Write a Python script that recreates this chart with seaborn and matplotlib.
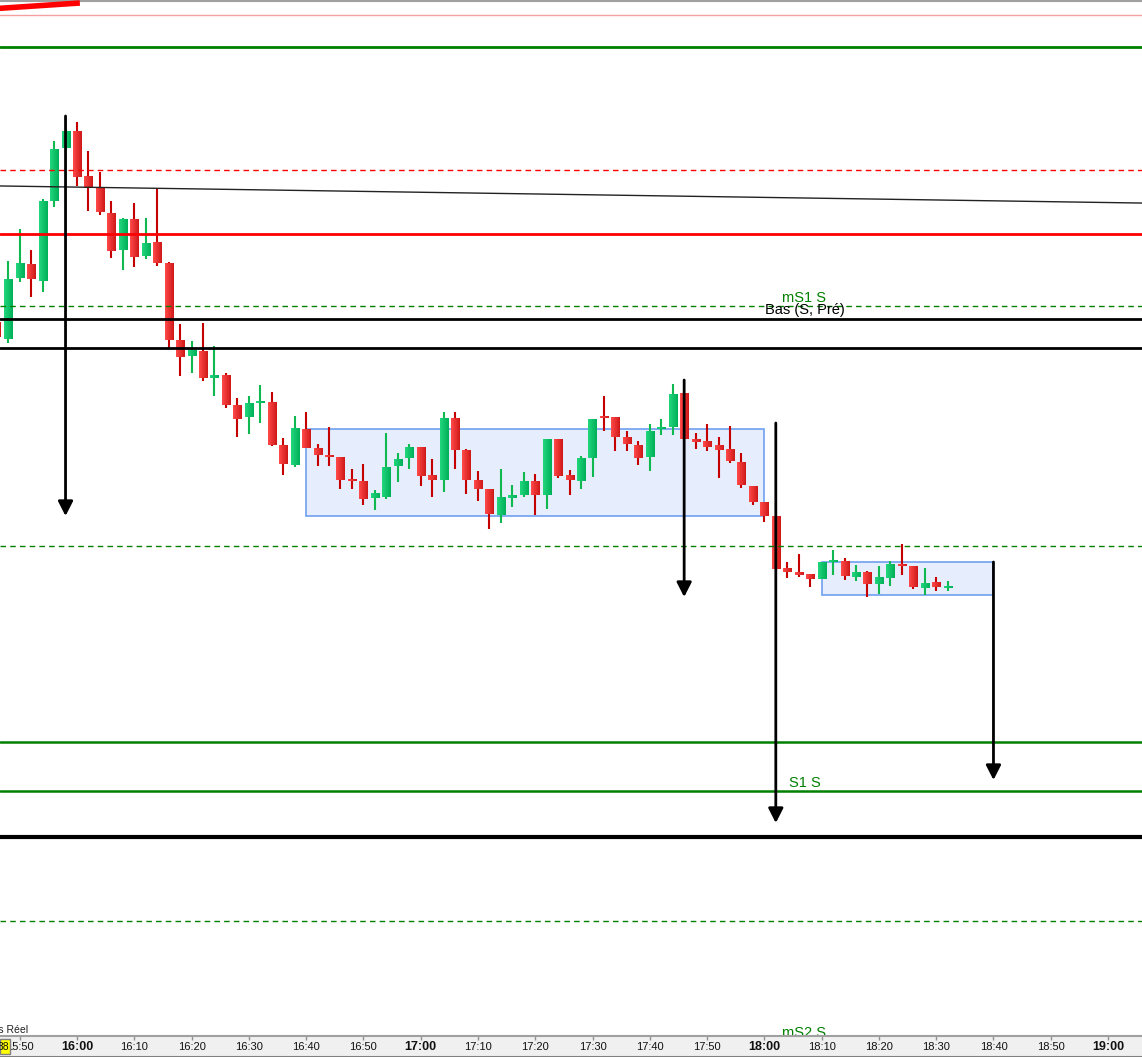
import numpy as np
import matplotlib
matplotlib.use("Agg")
import matplotlib.pyplot as plt
import seaborn as sns
from matplotlib.patches import Rectangle
from matplotlib.colors import to_rgb

sns.set_theme(style="white")
plt.rcParams['font.family'] = ['Liberation Sans', 'DejaVu Sans']

# ---------------- data (time = minutes from 16:00, levels in chart units, axis inverted) -------------
bar_min = list(range(-14, 153, 2))
open_ = [322, 339, 278, 264, 281, 201, 148, 131, 176, 188, 213, 250, 219, 256, 242, 263, 340, 356, 351, 378,
         375, 405, 417, 403, 402, 445, 465, 429, 448, 456, 457, 479, 481, 498, 497, 466, 458, 447, 475, 480,
         418, 450, 480, 489, 515, 498, 495, 481, 495, 439, 475, 481, 458, 417, 417, 437, 445, 457, 429, 427,
         393, 439, 441, 445, 449, 462, 486, 502, 516, 568, 572, 574, 579, 562, 561, 577, 572, 584, 578, 565,
         566, 588, 582, 588]
high_ = [318, 261, 229, 250, 199, 141, 129, 122, 151, 172, 201, 218, 203, 218, 189, 262, 324, 341, 323, 346,
         373, 398, 396, 385, 392, 438, 416, 412, 444, 427, 457, 469, 464, 490, 433, 453, 444, 447, 459, 412,
         412, 449, 471, 489, 469, 485, 472, 474, 439, 439, 470, 456, 419, 396, 417, 431, 441, 424, 419, 384,
         392, 433, 424, 437, 426, 453, 486, 502, 516, 562, 554, 574, 562, 550, 558, 565, 571, 566, 561, 544,
         566, 568, 577, 581]
low_ = [340, 343, 282, 297, 292, 207, 150, 186, 211, 215, 258, 270, 267, 259, 266, 348, 376, 373, 381, 396,
        408, 437, 434, 423, 446, 475, 467, 448, 466, 466, 489, 489, 505, 510, 499, 482, 469, 486, 497, 492,
        469, 494, 501, 529, 523, 507, 497, 515, 509, 478, 495, 489, 477, 431, 451, 451, 465, 471, 435, 435,
        440, 449, 451, 478, 463, 488, 505, 522, 570, 578, 577, 587, 579, 575, 580, 581, 597, 594, 586, 575,
        589, 595, 591, 591]
close_ = [337, 279, 263, 279, 201, 149, 131, 177, 188, 212, 251, 219, 257, 243, 263, 340, 357, 350, 378, 375,
          405, 419, 403, 402, 445, 464, 428, 448, 455, 457, 480, 481, 499, 493, 467, 459, 447, 476, 480, 418,
          450, 480, 489, 514, 497, 495, 481, 495, 439, 476, 480, 458, 419, 418, 437, 444, 458, 431, 427, 394,
          439, 442, 447, 450, 461, 485, 502, 516, 569, 572, 575, 579, 562, 561, 576, 572, 584, 577, 564, 566,
          587, 583, 587, 586]

# horizontal levels
level_values = [15, 47, 170, 234, 306, 319, 348, 546, 742, 791, 837, 921]

# sloped trend lines: (start minute, start level, end minute, end level)
trend_start_min = [-20, -14]
trend_start_val = [185.4, 8.5]
trend_end_min = [190, 0.5]
trend_end_val = [203.4, 3.0]

# consolidation boxes
box_start = [40, 130]
box_end = [120, 160]
box_top = [429, 562]
box_bottom = [516, 595]

# projection arrows
arrow_min = [-2, 106, 122, 160]
arrow_from = [116, 380, 423, 562]
arrow_to = [516, 597, 823, 780]

# level labels
label_texts = ["mS1 S", "Bas (S, Pré)", "S1 S", "mS2 S"]
label_values = [302, 314, 787, 1037]
label_min = [127, 127, 127, 127]

# time axis
tick_min = list(range(-10, 181, 10))
tick_labels = ["15:50", "16:00", "16:10", "16:20", "16:30", "16:40", "16:50", "17:00", "17:10", "17:20",
               "17:30", "17:40", "17:50", "18:00", "18:10", "18:20", "18:30", "18:40", "18:50", "19:00"]

# ---------------- styles -------------
level_colors = ['#f4a0a0', '#008000', '#ff0000', '#ff0000', '#008000', '#000000', '#000000',
                '#008000', '#008000', '#008000', '#000000', '#008000']
level_widths = [1.0, 2.0, 1.0, 2.0, 1.0, 2.0, 2.0, 1.0, 1.8, 1.8, 3.0, 1.0]
level_dashed = [False, False, True, False, True, False, False, True, False, False, False, True]
trend_colors = ['#222222', '#ff0000']
trend_widths = [1.0, 4.0]
label_colors = ['#008000', '#000000', '#008000', '#008000']

XMIN, XMAX = -13.44, 185.93
PX_PER_MIN = 5.728
W, H = 1142, 1057
STRIP = 21

fig = plt.figure(figsize=(W / 100, H / 100), dpi=100)
fig.patch.set_facecolor('white')
ax = fig.add_axes([0, STRIP / H, 1, (H - STRIP) / H])
ax.set_facecolor('white')

# boxes
for s, e, t, b in zip(box_start, box_end, box_top, box_bottom):
    ax.add_patch(Rectangle((s, t), e - s, b - t, facecolor='#e6edfc', edgecolor='#6f9ff0',
                           lw=1.2, zorder=1))

# candles
up_l, up_r = to_rgb('#22d67c'), to_rgb('#00b058')
dn_l, dn_r = to_rgb('#ff4a4a'), to_rgb('#d01818')
half = 0.7
for t, o, hh, ll, c in zip(bar_min, open_, high_, low_, close_):
    up = c < o
    ax.vlines(t, hh, ll, color='#10b850' if up else '#c40000', lw=1.5, zorder=2)
    top, bot = min(o, c), max(o, c)
    if bot - top < 2:
        mid = (top + bot) / 2
        top, bot = mid - 1, mid + 1
    cl, cr = (up_l, up_r) if up else (dn_l, dn_r)
    grad = np.linspace(np.array(cl), np.array(cr), 16)[None, :, :]
    ax.imshow(grad, extent=(t - half, t + half, bot, top), aspect='auto',
              interpolation='bilinear', zorder=3)

# horizontal levels
for v, col, lw, dsh in zip(level_values, level_colors, level_widths, level_dashed):
    ax.axhline(v, color=col, lw=lw, zorder=4,
               linestyle=(0, (4, 3)) if dsh else '-')

# trend lines
for x0, y0, x1, y1, col, lw in zip(trend_start_min, trend_start_val, trend_end_min, trend_end_val,
                                   trend_colors, trend_widths):
    ax.plot([x0, x1], [y0, y1], color=col, lw=lw, zorder=4, solid_capstyle='butt')

# arrows
for t, a0, a1 in zip(arrow_min, arrow_from, arrow_to):
    ax.annotate('', xy=(t, a1), xytext=(t, a0),
                arrowprops=dict(arrowstyle='-|>,head_length=0.55,head_width=0.28', color='black',
                                lw=2, mutation_scale=16, shrinkA=0, shrinkB=0), zorder=6)

# labels
for txt, v, t, col in zip(label_texts, label_values, label_min, label_colors):
    ax.text(t, v, txt, color=col, fontsize=10.5, ha='center', va='baseline', zorder=7, clip_on=True)

ax.text(-8.55, 1033, "Temps Réel", fontsize=7.5, ha='right', va='baseline', color='#222222',
        zorder=7, clip_on=True)

ax.set_xlim(XMIN, XMAX)
ax.set_ylim(H - STRIP, 0)
ax.set_xticks([])
ax.set_yticks([])
for sp in ['left', 'right', 'bottom']:
    ax.spines[sp].set_visible(False)
ax.spines['top'].set_color('#a0a0a0')
ax.spines['top'].set_linewidth(3)

# time strip
ax2 = fig.add_axes([0, 0, 1, STRIP / H])
ax2.set_facecolor('#f0f0f0')
ax2.set_xlim(XMIN, XMAX)
ax2.set_ylim(0, 1)
ax2.set_xticks([])
ax2.set_yticks([])
for sp in ['left', 'right']:
    ax2.spines[sp].set_visible(False)
ax2.spines['top'].set_color('#a0a0a0')
ax2.spines['top'].set_linewidth(1.5)
ax2.spines['bottom'].set_color('#808080')
ax2.spines['bottom'].set_linewidth(1.5)
ax2.vlines(tick_min, 0.82, 1.0, color='#909090', lw=1)

box_w = 10 / PX_PER_MIN
ybox = Rectangle((XMIN, 0.12), box_w, 0.76, facecolor='#ffff00', edgecolor='#808080', lw=1, zorder=5)
ax2.add_patch(ybox)
visible = Rectangle((XMIN + box_w, 0), XMAX - XMIN, 1, transform=ax2.transData, fill=False, lw=0)
ax2.add_patch(visible)

for t, lab in zip(tick_min, tick_labels):
    bold = lab.endswith(":00")
    tx = ax2.text(t, 0.46, lab, ha='center', va='center', fontsize=9 if bold else 8,
                  fontweight='bold' if bold else 'normal', color='#111111', zorder=4)
    tx.set_clip_path(visible)

t38 = ax2.text(XMIN + 9 / PX_PER_MIN, 0.46, "38", ha='right', va='center', fontsize=7.5,
               color='#111111', zorder=6)
t38.set_clip_path(ybox)

fig.savefig("out.png", dpi=100, facecolor='white')
